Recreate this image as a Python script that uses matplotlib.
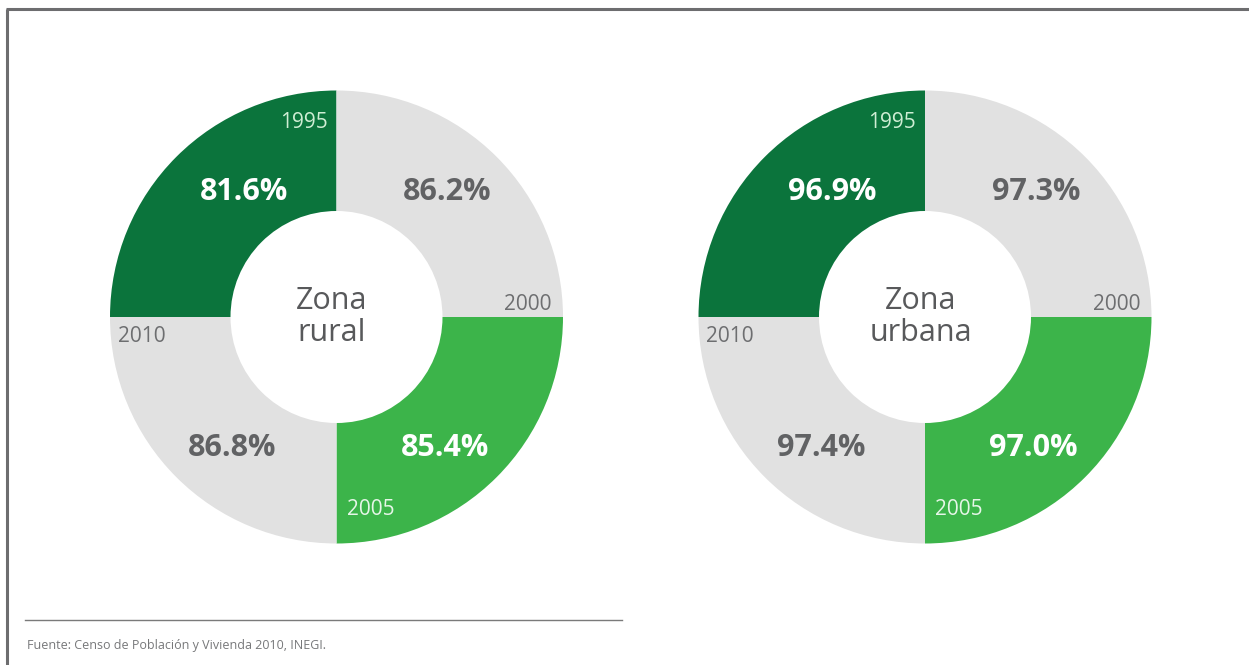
import matplotlib
matplotlib.use("Agg")
import matplotlib.pyplot as plt
from matplotlib.lines import Line2D

# ---- data ----
years = ["1995", "2000", "2005", "2010"]
rural = [81.6, 86.2, 85.4, 86.8]
urbana = [96.9, 97.3, 97.0, 97.4]
shares = [25, 25, 25, 25]           # equal quadrants
titles = ["Zona\nrural", "Zona\nurbana"]
source = "Fuente: Censo de Población y Vivienda 2010, INEGI."

# ---- style ----
W, H = 1249, 665
DARK = "#0b743c"
BRIGHT = "#3cb44a"
GRAY = "#e1e1e1"
TXT = "#616264"
seg_colors = [DARK, GRAY, BRIGHT, GRAY]
pct_colors = ["white", TXT, "white", TXT]
year_colors = ["#cfeed4", "#6d6e70", "#e6f6e8", "#6d6e70"]
FONT = "Open Sans"

fig = plt.figure(figsize=(W / 100, H / 100), dpi=100)
fig.patch.set_facecolor("white")

# frame (top and left borders)
fig.add_artist(Line2D([7 / W, 7 / W], [0, 1 - 9 / H], transform=fig.transFigure,
                      color="#6d6d6f", lw=2.2, solid_capstyle="butt"))
fig.add_artist(Line2D([6 / W, 1], [1 - 9 / H, 1 - 9 / H], transform=fig.transFigure,
                      color="#6d6d6f", lw=2.2, solid_capstyle="butt"))

centers = [(336.5, 317), (925, 317)]
R = 226.5
inner = 106 / R

# label offsets in radius units (per quadrant)
pct_pos = [(-0.41, 0.55), (0.49, 0.55), (0.48, -0.58), (-0.46, -0.58)]
year_pos = [(-0.04, 0.86, "right"), (0.95, 0.055, "right"),
            (0.045, -0.85, "left"), (-0.965, -0.085, "left")]

for (cx, cy), vals, title in zip(centers, [rural, urbana], titles):
    ax = fig.add_axes([(cx - R) / W, (H - cy - R) / H, 2 * R / W, 2 * R / H])
    ax.pie(shares, colors=seg_colors, startangle=180, counterclock=False,
           radius=1, wedgeprops=dict(width=1 - inner, linewidth=0))
    ax.set_xlim(-1, 1)
    ax.set_ylim(-1, 1)
    ax.set_aspect("equal")
    ax.axis("off")
    for i, v in enumerate(vals):
        px, py = pct_pos[i]
        ax.text(px, py, f"{v:.1f}%", ha="center", va="center", fontsize=22,
                fontweight="bold", color=pct_colors[i], family=FONT)
        yx, yy, ha = year_pos[i]
        ax.text(yx, yy, years[i], ha=ha, va="center", fontsize=15,
                color=year_colors[i], family=FONT)
    ax.text(-0.02, 0.0, title, ha="center", va="center", fontsize=22,
            color="#58595b", family=FONT, linespacing=1.05)

# source line and text
fig.add_artist(Line2D([25 / W, 622 / W], [1 - 620 / H, 1 - 620 / H],
                      transform=fig.transFigure, color="#7a7a7a", lw=1.0))
fig.text(27 / W, 1 - 645 / H, source, ha="left", va="center", fontsize=9,
         color="#77787a", family=FONT)

fig.savefig("out.png", dpi=100, facecolor="white")
